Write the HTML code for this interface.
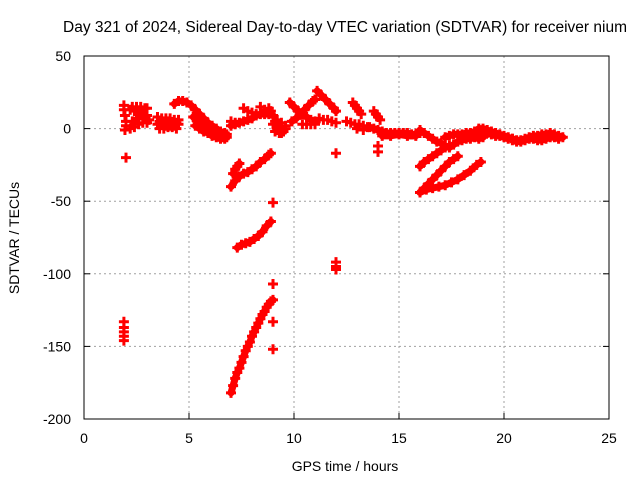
<!DOCTYPE html>
<html><head><meta charset="utf-8"><style>
html,body{margin:0;padding:0;background:#fff;}
svg text{font-family:"Liberation Sans",sans-serif;font-size:14px;fill:#000;}
</style></head><body>
<svg id="chart" width="640" height="480" xmlns="http://www.w3.org/2000/svg">
<text x="345" y="32" text-anchor="middle" style="font-size:15.5px">Day 321 of 2024, Sidereal Day-to-day VTEC variation (SDTVAR) for receiver nium</text>
<text x="345" y="471" text-anchor="middle">GPS time / hours</text>
<text transform="translate(19,238) rotate(-90)" text-anchor="middle">SDTVAR / TECUs</text>
<g id="grid"></g>
<g id="marks"></g>
<rect x="84" y="56" width="525" height="363" fill="none" stroke="#000" stroke-width="1"/>
<g id="ticks"></g>
</svg>
<script>
const xTicks=[0,5,10,15,20,25];
const yTicks=[50,0,-50,-100,-150,-200];
const t1x=[1.9,1.9,1.95,2.0,2.0,1.95,2.0];            const t1y=[16,13,9,5,2,-1,-20];
const t2x=[2.3,2.5,2.7,2.9,3.0,2.3,2.5,2.7,2.9,3.1,2.4,2.6,2.8,3.0,2.2,2.4,2.2,2.4,2.6,2.8,3.0]; const t2y=[15,15,15,14,14,5,7,9,8,6,3,3,4,4,0,1,13,12,11,10,9];
const t3x=[3.5,3.7,3.9,4.1,4.3,4.5,3.5,3.7,3.9,4.1,4.3,4.5,3.6,3.8,4.0,4.2,4.4,3.6,3.8,4.0,4.2,4.4]; const t3y=[8,7,7,7,6,6,3,3,2,2,2,3,0,0,1,1,0,5,5,5,4,4];
const t4x=[4.3,4.5,4.7,4.9,5.1,5.3,5.5,5.7,5.9,6.1,6.3,6.5,6.7,6.8]; const t4y=[17,19,19,18,16,13,10,7,4,2,0,-2,-3,-4];
const t5x=[5.2,5.4,5.6,5.8,6.0,6.2,6.4,6.6,6.8]; const t5y=[8,5,3,1,-1,-3,-4,-5,-6];
const t5bx=[5.3,5.5,5.7,5.9,6.1,6.3,6.5,6.7]; const t5by=[2,0,-2,-3,-5,-6,-7,-7];
const t6x=[7.0,7.2,7.4,7.6,7.8,8.0,8.2,8.4,8.6,8.8,9.0]; const t6y=[2,3,4,5,6,7,9,10,10,10,9];
const t7x=[7.6,7.8,8.0,8.2,8.4,8.6,8.8,9.0,8.8,8.9,7.0,7.2]; const t7y=[14,12,11,10,15,13,11,9,14,12,5,4];
const t8x=[9.0,9.1,9.2,9.3,9.4,9.5,9.6,9.2,9.4,9.6,9.1,9.3,9.5,9.0,9.2,9.4]; const t8y=[8,5,3,1,0,-2,2,6,4,0,-2,-3,-1,3,-1,-3];
const t9x=[9.8,10.0,10.2,10.4,10.6,10.8,11.0]; const t9y=[18,15,12,10,8,6,5];
const t9bx=[9.9,10.1,10.3,10.5,10.7,10.9,11.0]; const t9by=[5,7,10,13,16,19,20];
const t10x=[11.1,11.3,11.5,11.7,11.9,12.0]; const t10y=[26,23,20,17,14,12];
const t10bx=[10.4,10.6,10.8,11.0,11.2,11.4,11.6,11.8,12.0]; const t10by=[3,3,3,3,7,6,6,5,4];
const t11x=[12.5,12.7,12.9,13.1,13.3,13.5,12.8,12.9,13.0,13.1,13.2,13.8,13.9,14.0,14.1,13.0,13.3]; const t11y=[5,4,3,3,2,1,18,16,14,12,10,12,10,8,6,0,-1];
const t12x=[13.6,13.8,14.0,14.2,14.4,14.6,14.8,15.0,15.2,15.4,15.6,15.8,16.0]; const t12y=[1,0,-1,-2,-3,-3,-3,-3,-3,-3,-4,-4,-3];
const t12bx=[14.2,14.6,15.0,15.4,15.8]; const t12by=[-5,-5,-4,-5,-5];
const t13x=[16.0,16.2,16.4,16.6,16.8,17.0,17.2,17.4,17.6,17.8,18.0,18.2,18.4,18.6,18.8,19.0]; const t13y=[-1,-3,-5,-7,-9,-10,-12,-13,-11,-9,-8,-7,-7,-6,-7,-6];
const t14x=[17.2,17.4,17.6,17.8,18.0,18.2,18.4,18.6,18.8,19.0,19.2,19.4,19.6,19.8,20.0,20.2,20.4]; const t14y=[-6,-5,-4,-4,-4,-3,-3,-2,-2,-3,-3,-4,-5,-5,-6,-7,-7];
const t15x=[18.8,19.0,19.2,19.4,19.6,19.8,20.0,20.2,20.4,20.6,20.8,21.0,21.2,21.4,21.6,21.8,22.0,22.2,22.4,22.6,22.8]; const t15y=[0,0,-1,-2,-3,-4,-5,-6,-7,-8,-8,-7,-6,-5,-5,-4,-4,-3,-4,-5,-6];
const t16x=[20.4,20.6,20.8,21.0,21.2,21.4,21.6,21.8,22.0,22.2,22.4,22.6]; const t16y=[-8,-9,-9,-8,-7,-7,-8,-8,-7,-6,-6,-7];
const t17x=[7.0,7.2,7.4,7.6,7.8,8.0,8.2,8.4,8.6,8.8,8.9]; const t17y=[-40,-36,-33,-31,-30,-28,-26,-23,-21,-18,-17];
const t18x=[7.1,7.2,7.3,7.4]; const t18y=[-31,-28,-26,-24];
const t19x=[7.3,7.5,7.7,7.9,8.1,8.3,8.5,8.7,8.9]; const t19y=[-82,-80,-79,-78,-76,-74,-71,-67,-64];
const t20x=[7.0,7.1,7.2,7.3,7.4,7.5,7.6,7.7,7.8,7.9,8.0,8.1,8.2,8.3,8.4,8.5,8.6,8.7,8.8,8.9,9.0]; const t20y=[-182,-177,-172,-168,-165,-161,-157,-153,-150,-147,-143,-140,-137,-134,-131,-128,-126,-123,-121,-119,-118];
const t21x=[1.9,1.9,1.9,1.9,1.9,9.0,9.0,9.0,9.0,12.0,12.0,12.0,12.0,14.0,14.0]; const t21y=[-133,-137,-140,-143,-146,-51,-107,-133,-152,-17,-92,-95,-97,-12,-16];
const t22x=[16.0,16.2,16.4,16.6,16.8,17.0,17.2,17.4,17.6,17.8]; const t22y=[-44,-41,-38,-35,-32,-29,-26,-23,-21,-19];
const t23x=[16.0,16.3,16.6,16.9,17.2,17.5,17.8,18.1,18.4,18.7,18.9]; const t23y=[-44,-42,-41,-40,-39,-37,-35,-32,-29,-25,-23];
const t24x=[16.0,16.2,16.4,16.6,16.8,17.0,17.2,17.4]; const t24y=[-26,-23,-21,-19,-17,-15,-13,-12];
// [xs, ys, connected-band?]
const tracks=[[t1x,t1y,0],[t2x,t2y,0],[t3x,t3y,0],[t4x,t4y,1],[t5x,t5y,1],[t5bx,t5by,1],[t6x,t6y,1],[t7x,t7y,0],[t8x,t8y,0],[t9x,t9y,1],[t9bx,t9by,1],[t10x,t10y,1],[t10bx,t10by,0],[t11x,t11y,0],[t12x,t12y,1],[t12bx,t12by,1],[t13x,t13y,1],[t14x,t14y,1],[t15x,t15y,1],[t16x,t16y,1],[t17x,t17y,1],[t18x,t18y,1],[t19x,t19y,1],[t20x,t20y,1],[t21x,t21y,0],[t22x,t22y,1],[t23x,t23y,1],[t24x,t24y,1]];

const NS='http://www.w3.org/2000/svg';
const X=v=>84+v*21;
const Y=v=>419-(v+200)*363/250;
function el(tag,attrs,parent){const e=document.createElementNS(NS,tag);for(const k in attrs)e.setAttribute(k,attrs[k]);parent.appendChild(e);return e;}
const grid=document.getElementById('grid'),ticks=document.getElementById('ticks'),marks=document.getElementById('marks');
xTicks.forEach(t=>{
  if(t>0&&t<25){const g=el('line',{x1:X(t),x2:X(t),y1:56,y2:419,stroke:'#a0a0a0','stroke-dasharray':'2,3'},grid);
  
  }
  const tk=el('line',{x1:X(t),x2:X(t),y1:419,y2:413,stroke:'#000'},ticks);
  
  
  const lb=el('text',{x:X(t),y:443,'text-anchor':'middle'},ticks);lb.textContent=t;
  
  
});
yTicks.forEach(t=>{
  if(t<50&&t>-200){const g=el('line',{x1:84,x2:609,y1:Y(t),y2:Y(t),stroke:'#a0a0a0','stroke-dasharray':'2,3'},grid);
  
  }
  const tk=el('line',{x1:84,x2:90,y1:Y(t),y2:Y(t),stroke:'#000'},ticks);
  
  
  const tk2=el('line',{x1:603,x2:609,y1:Y(t),y2:Y(t),stroke:'#000'},ticks);
  
  
  const lb=el('text',{x:71,y:Y(t)+5,'text-anchor':'end'},ticks);lb.textContent=t;
  
  
});
tracks.forEach(([xs,ys,band])=>{
  if(band){
    const pts=xs.map((xv,i)=>X(xv)+','+Y(ys[i])).join(' ');
    const pl=el('polyline',{points:pts,fill:'none',stroke:'#ff0000','stroke-width':7,'stroke-linejoin':'round','stroke-linecap':'round'},marks);
    
    
  }
  xs.forEach((xv,i)=>{
    const cx=X(xv),cy=Y(ys[i]);
    const p=el('path',{d:`M${cx-5} ${cy}H${cx+5}M${cx} ${cy-5}V${cy+5}`,stroke:'#ff0000','stroke-width':3},marks);
    
    
  });
});
</script>
</body></html>
